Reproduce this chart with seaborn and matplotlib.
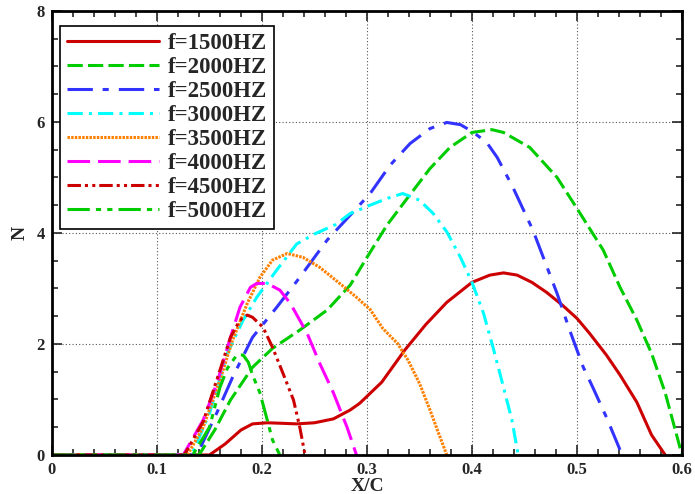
import numpy as np
import pandas as pd
import matplotlib
matplotlib.use("Agg")
import matplotlib.pyplot as plt
import seaborn as sns
from matplotlib.ticker import MultipleLocator

labels = ["f=1500HZ", "f=2000HZ", "f=2500HZ", "f=3000HZ",
          "f=3500HZ", "f=4000HZ", "f=4500HZ", "f=5000HZ"]

x1500 = [0, 0.150, 0.165, 0.180, 0.191, 0.205, 0.220, 0.233, 0.250, 0.268, 0.284, 0.293, 0.314, 0.336, 0.356, 0.376, 0.400, 0.417, 0.430, 0.443, 0.457, 0.471, 0.486, 0.500, 0.512, 0.528, 0.541, 0.557, 0.571, 0.584]
y1500 = [0, 0, 0.20, 0.45, 0.56, 0.58, 0.57, 0.56, 0.58, 0.65, 0.81, 0.93, 1.31, 1.89, 2.35, 2.75, 3.11, 3.24, 3.28, 3.24, 3.11, 2.93, 2.70, 2.46, 2.19, 1.80, 1.44, 0.95, 0.36, 0.0]

x2000 = [0, 0.140, 0.155, 0.170, 0.191, 0.210, 0.236, 0.262, 0.284, 0.300, 0.319, 0.339, 0.360, 0.379, 0.400, 0.419, 0.430, 0.455, 0.481, 0.500, 0.525, 0.541, 0.557, 0.571, 0.584, 0.600]
y2000 = [0, 0, 0.45, 0.99, 1.58, 1.92, 2.25, 2.61, 3.06, 3.56, 4.14, 4.64, 5.16, 5.54, 5.81, 5.86, 5.81, 5.54, 5.00, 4.44, 3.69, 3.02, 2.43, 1.83, 1.12, 0.0]

x2500 = [0, 0.138, 0.157, 0.172, 0.191, 0.214, 0.236, 0.262, 0.284, 0.303, 0.322, 0.341, 0.360, 0.376, 0.389, 0.400, 0.414, 0.424, 0.439, 0.458, 0.481, 0.493, 0.506, 0.515, 0.528, 0.543]
y2500 = [0, 0, 0.76, 1.40, 2.12, 2.66, 3.20, 3.87, 4.32, 4.71, 5.22, 5.61, 5.88, 5.99, 5.95, 5.83, 5.63, 5.36, 4.82, 4.05, 2.91, 2.25, 1.58, 1.22, 0.68, 0.0]

x3000 = [0, 0.133, 0.150, 0.167, 0.182, 0.195, 0.214, 0.233, 0.250, 0.270, 0.284, 0.303, 0.319, 0.334, 0.350, 0.363, 0.376, 0.389, 0.400, 0.411, 0.420, 0.430, 0.438, 0.444]
y3000 = [0, 0, 0.75, 1.83, 2.43, 2.84, 3.33, 3.80, 3.98, 4.15, 4.35, 4.50, 4.62, 4.71, 4.59, 4.35, 4.02, 3.56, 3.11, 2.55, 1.94, 1.22, 0.63, 0.0]

x3500 = [0, 0.129, 0.144, 0.160, 0.172, 0.186, 0.198, 0.210, 0.224, 0.239, 0.255, 0.274, 0.290, 0.303, 0.315, 0.329, 0.339, 0.350, 0.360, 0.368, 0.376]
y3500 = [0, 0, 0.50, 1.35, 2.07, 2.73, 3.20, 3.51, 3.63, 3.56, 3.38, 3.09, 2.84, 2.62, 2.28, 2.01, 1.71, 1.29, 0.81, 0.40, 0.0]

x4000 = [0, 0.125, 0.144, 0.157, 0.170, 0.179, 0.189, 0.195, 0.205, 0.217, 0.227, 0.243, 0.255, 0.268, 0.281, 0.290]
y4000 = [0, 0, 0.63, 1.29, 2.12, 2.66, 3.02, 3.09, 3.09, 2.97, 2.73, 2.19, 1.65, 1.12, 0.50, 0.0]

x4500 = [0, 0.126, 0.144, 0.160, 0.170, 0.179, 0.186, 0.191, 0.201, 0.210, 0.220, 0.230, 0.236, 0.241]
y4500 = [0, 0, 0.60, 1.53, 2.12, 2.43, 2.52, 2.48, 2.30, 1.94, 1.47, 0.99, 0.50, 0.0]

x5000 = [0, 0.134, 0.150, 0.160, 0.167, 0.176, 0.182, 0.187, 0.191, 0.198, 0.205, 0.210, 0.217]
y5000 = [0, 0, 0.50, 1.22, 1.56, 1.80, 1.80, 1.67, 1.44, 1.12, 0.63, 0.27, 0.0]

xs = [x1500, x2000, x2500, x3000, x3500, x4000, x4500, x5000]
ys = [y1500, y2000, y2500, y3000, y3500, y4000, y4500, y5000]

colors = ["#cc0000", "#00cc00", "#3333ff", "#00ffff",
          "#ff8000", "#ff00ff", "#cc0000", "#00cc00"]
dash_list = ["", (5, 1.7), (8.3, 3.2, 2, 3.3), (5, 2, 1, 2),
             (0.8, 0.4), (7.4, 2.6), (4.4, 1.3, 1, 1.4, 1, 1.3), (7.3, 2, 1.7, 2, 1.7, 2)]

frames = []
for lab, xx, yy in zip(labels, xs, ys):
    frames.append(pd.DataFrame({"X/C": xx, "N": yy, "f": lab}))
df = pd.concat(frames, ignore_index=True)

sns.set_style("ticks")
plt.rcParams["font.family"] = ["Liberation Serif", "DejaVu Serif"]
plt.rcParams["font.weight"] = "bold"

fig = plt.figure(figsize=(6.95, 4.94), dpi=100)
ax = fig.add_axes([0.0748, 0.079, 0.9065, 0.899])

sns.lineplot(data=df, x="X/C", y="N", hue="f", style="f",
             palette=dict(zip(labels, colors)), dashes=dict(zip(labels, dash_list)),
             hue_order=labels, style_order=labels,
             sort=False, estimator=None, lw=2.2, ax=ax, legend=True)

ax.set_xlim(0, 0.6)
ax.set_ylim(0, 8)
ax.xaxis.set_minor_locator(MultipleLocator(0.02))
ax.yaxis.set_major_locator(MultipleLocator(2))
ax.yaxis.set_minor_locator(MultipleLocator(0.5))
ax.set_xticks([0, 0.1, 0.2, 0.3, 0.4, 0.5, 0.6])
ax.set_xticklabels(["0", "0.1", "0.2", "0.3", "0.4", "0.5", "0.6"])
ax.tick_params(which="both", direction="in", top=True, right=True, width=1.2)
ax.tick_params(which="major", length=7, labelsize=12, pad=5)
ax.tick_params(which="minor", length=4)
for lbl in ax.get_xticklabels() + ax.get_yticklabels():
    lbl.set_fontweight("bold")
for sp in ax.spines.values():
    sp.set_linewidth(2)
    sp.set_color("black")
ax.grid(True, which="major", linestyle=(0, (1, 2)), color="#555555", linewidth=0.8)
ax.set_xlabel("X/C", fontsize=14, fontweight="bold", labelpad=0)
ax.set_ylabel("N", fontsize=14, fontweight="bold", labelpad=6)

handles, labs = ax.get_legend_handles_labels()
leg = ax.legend(handles, labs, loc="upper left", bbox_to_anchor=(0.0127, 0.966),
                frameon=True, fancybox=False, edgecolor="black", framealpha=1,
                handlelength=4.0, labelspacing=0.13, borderaxespad=0.0,
                handletextpad=0.4, borderpad=0.3,
                prop={"family": ["Liberation Serif"], "weight": "bold", "size": 16.5})
leg.get_frame().set_linewidth(1.2)

fig.savefig("out.png", dpi=100)
